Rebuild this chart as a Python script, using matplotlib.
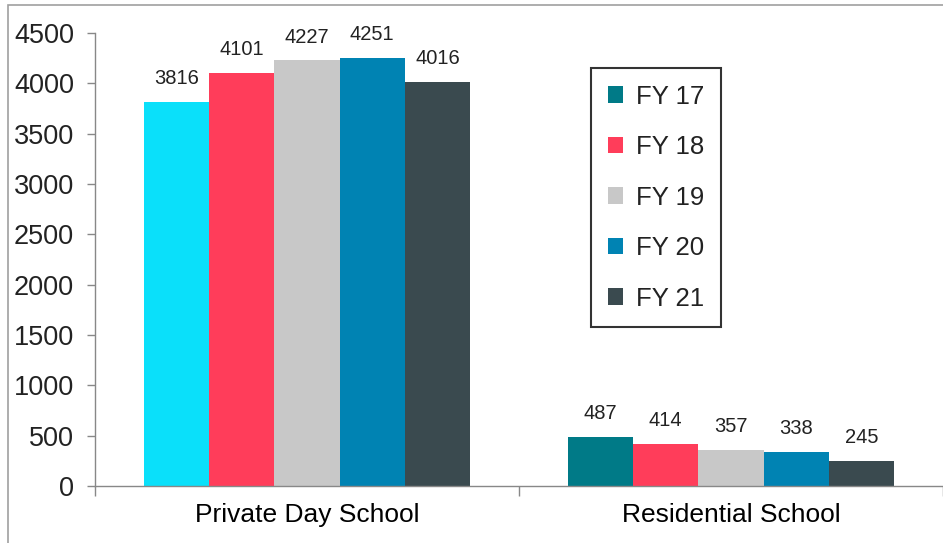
import matplotlib.pyplot as plt
import numpy as np
from matplotlib.patches import Rectangle

plt.rcParams['font.family'] = ['Liberation Sans', 'DejaVu Sans']

categories = ['Private Day School', 'Residential School']
years = ['FY 17', 'FY 18', 'FY 19', 'FY 20', 'FY 21']
values = {
    'FY 17': [3816, 487],
    'FY 18': [4101, 414],
    'FY 19': [4227, 357],
    'FY 20': [4251, 338],
    'FY 21': [4016, 245],
}
colors = ['#007A87', '#FF3D5A', '#C8C8C8', '#0083B3', '#3A4A4F']
# first private-day bar is drawn in a lighter cyan in the original
first_bar_color = '#0AE0FA'

fig = plt.figure(figsize=(9.43, 5.43), dpi=100)
ax = fig.add_axes([95/943, 1 - 486/543, 1 - 95/943, (486 - 33)/543])

# outer chart border (top and left visible)
fig.patches.append(Rectangle((8/943, -0.1), 1.2, 1 - 5/543 + 0.1, transform=fig.transFigure,
                             fill=False, edgecolor='#A0A0A0', linewidth=1.2))

x = np.arange(len(categories))
width = 0.154
for i, yr in enumerate(years):
    pos = x + (i - 2) * width
    cols = [colors[i]] * len(categories)
    if i == 0:
        cols[0] = first_bar_color
    bars = ax.bar(pos, values[yr], width, color=cols, label=yr, zorder=2)
    for b, v in zip(bars, values[yr]):
        ax.annotate(str(v), (b.get_x() + b.get_width()/2, v), xytext=(0, 10),
                    textcoords='offset points', ha='center', va='bottom', fontsize=14.5, color='#222222')

ax.set_xlim(-0.5, 1.5)
ax.set_ylim(0, 4500)
ax.set_yticks(range(0, 4501, 500))
ax.set_xticks([-0.5, 0.5, 1.5])
ax.set_xticklabels([])
ax.set_xticks(x, minor=True)
ax.set_xticklabels(categories, minor=True, fontsize=19)
ax.tick_params(axis='x', which='minor', length=0, pad=12)
ax.tick_params(axis='x', which='major', length=7, color='#888888', width=1)
ax.tick_params(axis='y', length=6, color='#888888', width=1, labelsize=19.5, pad=9, labelcolor='#222222')

for s in ['top', 'right']:
    ax.spines[s].set_visible(False)
for s in ['left', 'bottom']:
    ax.spines[s].set_color('#888888')
    ax.spines[s].set_linewidth(1)

leg = ax.legend(loc='upper left', bbox_to_anchor=(591/943, 1 - 68/543), bbox_transform=fig.transFigure,
                fontsize=18.5, frameon=True, fancybox=False, handlelength=0.6, handleheight=0.6,
                handletextpad=0.5, labelspacing=1.03, borderpad=0.65, borderaxespad=0)
leg.get_frame().set_edgecolor('black')
leg.get_frame().set_linewidth(1.5)
for t in leg.get_texts():
    t.set_color('#222222')
# legend FY 17 swatch uses the teal colour
leg.legend_handles[0].set_facecolor(colors[0])

fig.savefig('out.png', dpi=100)
